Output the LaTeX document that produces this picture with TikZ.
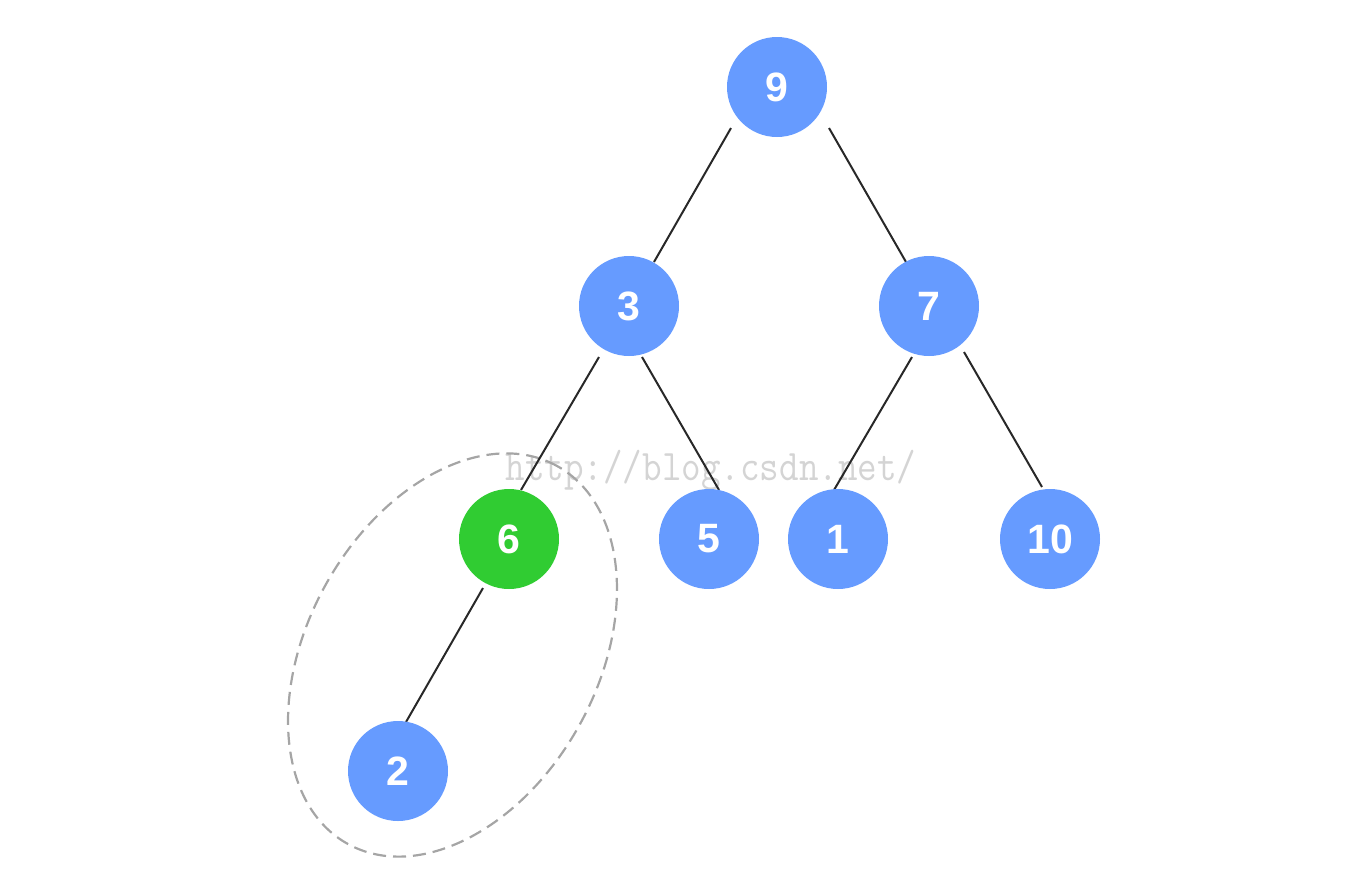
\documentclass[tikz,border=0pt]{standalone}
\usepackage{fontspec}
\setmainfont{Liberation Sans}
\usetikzlibrary{calc,backgrounds}
\definecolor{nodeblue}{RGB}{102,155,255}
\definecolor{nodegreen}{RGB}{48,204,50}
\definecolor{edgecol}{RGB}{40,40,40}
\definecolor{ringcol}{RGB}{165,165,165}
\definecolor{wmcol}{RGB}{212,212,212}
\tikzset{
  tnode/.style={circle, fill=nodeblue, minimum size=100pt, inner sep=0pt,
    text=white, font=\fontsize{41}{44}\selectfont\bfseries},
  hnode/.style={tnode, fill=nodegreen},
  edge/.style={draw=edgecol, line width=2pt},
  ring/.style={draw=ringcol, line width=2.2pt, dash pattern=on 13pt off 7pt},
  wm/.style={text=wmcol, font=\ttfamily\fontsize{38}{40}\selectfont, inner sep=0pt, yscale=1.15}
}
\begin{document}
\begin{tikzpicture}[x=1pt,y=-1pt]
\useasboundingbox (0,0) rectangle (1368,895);
\node[tnode] (n9) at (777,87) {9};
\node[tnode] (n3) at (629,306) {3};
\node[tnode] (n7) at (929,306) {7};
\node[hnode] (n6) at (509,539) {6};
\node[tnode] (n5) at (709,539) {5};
\node[tnode] (n1) at (838,539) {1};
\node[tnode] (n10) at (1050,539) {10};
\node[tnode] (n2) at (398,771) {2};
\begin{pgfonlayer}{background}
\node[wm] (wmark) at (711,470) {http://blog.csdn.net/};
\draw[ring] ($(n6)!0.5!(n2)+(-1,0)$) coordinate (rc) ellipse[x radius=216pt, y radius=145pt, rotate=61];
\draw[edge] ($(n9)+(-46,41)$) -- ($(n3)+(25,-44)$);
\draw[edge] ($(n9)+(52,41)$) -- ($(n7)+(-23,-44)$);
\draw[edge] ($(n3)+(-30,51)$) -- ($(n6)+(12,-49)$);
\draw[edge] ($(n3)+(13,51)$) -- ($(n5)+(10,-49)$);
\draw[edge] ($(n7)+(-17,51)$) -- ($(n1)+(-4,-49)$);
\draw[edge] ($(n7)+(35,46)$) -- ($(n10)+(-8,-52)$);
\draw[edge] ($(n6)+(-26,49)$) -- ($(n2)+(8,-49)$);
\end{pgfonlayer}
\end{tikzpicture}
\end{document}
